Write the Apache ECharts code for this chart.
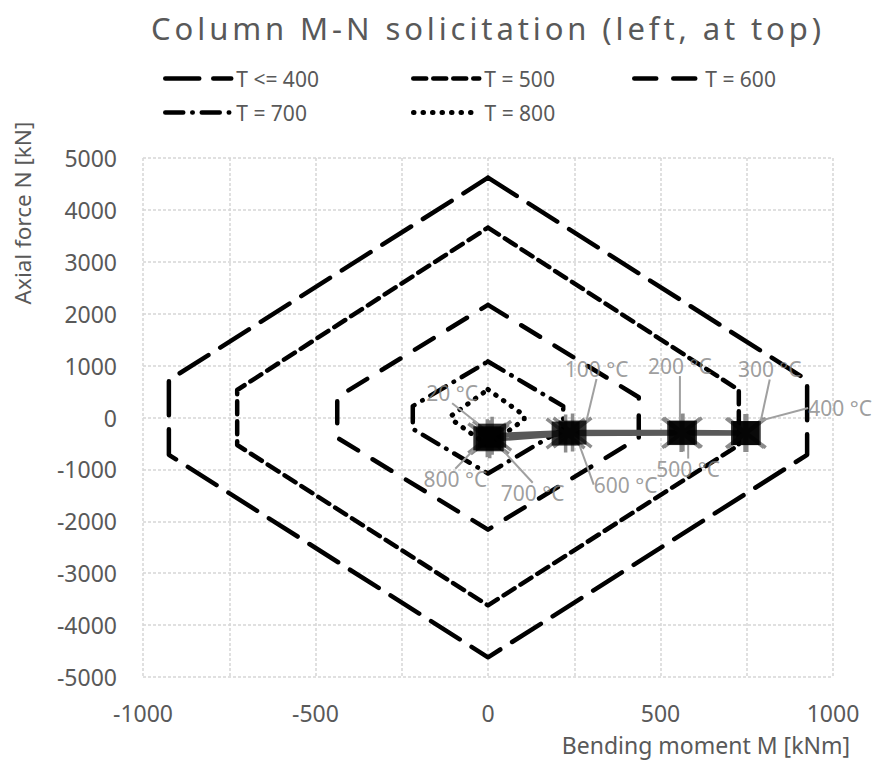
<!DOCTYPE html>
<html><head><meta charset="utf-8">
<script src="https://cdn.jsdelivr.net/npm/echarts@6/dist/echarts.min.js"></script>
<style>html,body{margin:0;padding:0;background:#fff}#c{width:874px;height:760px}</style>
</head><body><div id="c"></div>
<script>
// ---- data ----
const titleText = 'Column M-N solicitation (left, at top)';
const xAxisTitle = 'Bending moment M [kNm]';
const yAxisTitle = 'Axial force N [kN]';
const seriesNames = ['T <= 400', 'T = 500', 'T = 600', 'T = 700', 'T = 800'];
// interaction curves [M, N]
const curveT400 = [[0,4620],[925,720],[925,-720],[0,-4620],[-925,-720],[-925,720],[0,4620]];
const curveT500 = [[0,3660],[727,530],[727,-530],[0,-3620],[-727,-530],[-727,530],[0,3660]];
const curveT600 = [[0,2170],[437,390],[437,-390],[0,-2160],[-437,-390],[-437,390],[0,2170]];
const curveT700 = [[0,1080],[218,220],[218,-220],[0,-1080],[-218,-220],[-218,220],[0,1080]];
const curveT800 = [[0,540],[105,40],[105,-40],[0,-540],[-105,-40],[-105,40],[0,540]];
// solicitation points
const tempLabels = ['20 °C','100 °C','200 °C','300 °C','400 °C','500 °C','600 °C','700 °C','800 °C'];
const solM = [12, 245, 565, 750, 745, 560, 225, 5, -2];
const solN = [-350, -290, -290, -300, -300, -300, -310, -420, -400];
const xTickLabels = [-1000, -500, 0, 500, 1000];
const yTickLabels = [-5000,-4000,-3000,-2000,-1000,0,1000,2000,3000,4000,5000];

// ---- styling / layout ----
const FONT = 'Noto Sans';
const curves = [curveT400, curveT500, curveT600, curveT700, curveT800];
const dashPatterns = [[34,14],[13,7],[22,17],[18,9,0.5,9],[0.5,9]];
const lineWidths = [4.5,4.5,4.5,4.5,5];
const legendPos = [[163,68],[411,68],[632,68],[163,102],[411,102]];
const labelOffsets = [[-40,-43],[24,-64],[-3,-67],[23,-64],[95,-25],[7,36],[60,51],[43,54],[-32,41]];
const solData = solM.map((m,i)=>[m, solN[i]]);

const chart = echarts.init(document.getElementById('c'), null, {renderer:'svg'});

const series = curves.map((c,i)=>({
  name: seriesNames[i], type:'line', data: c, symbol:'none', z: 3,
  itemStyle:{color:'#000'},
  lineStyle:{color:'#000', width:lineWidths[i], type: dashPatterns[i], cap:'round', join:'round'}
}));
series.push({
  name:'solicitation', type:'line', data: solData, z: 4,
  symbol:'path://M0,0L20,20M20,0L0,20M10,-3L10,23', symbolSize: 38,
  itemStyle:{color:'transparent', borderColor:'#8c8c8c', borderWidth:3.5},
  lineStyle:{color:'#595959', width:5.5}
});
series.push({
  name:'points', type:'scatter', data: solData, z: 5,
  symbol:'rect', symbolSize:[28,24], itemStyle:{color:'#000'},
  label:{show:true, position:'inside', formatter:(p)=>tempLabels[p.dataIndex],
    color:'#858585', fontFamily:FONT, fontSize:21},
  labelLine:{show:true, lineStyle:{color:'#a0a0a0', width:2}},
  labelLayout:(p)=>({dx: labelOffsets[p.dataIndex][0], dy: labelOffsets[p.dataIndex][1]})
});

const option = {
  animation:false,
  backgroundColor:'#fff',
  title:{text:titleText, left:483, top:7, textAlign:'center',
    textStyle:{fontFamily:FONT, fontSize:31, fontWeight:'normal', color:'#595959'}},
  legend: seriesNames.map((n,i)=>({data:[n], left:legendPos[i][0], top:legendPos[i][1],
    padding:0, itemWidth:66, itemHeight:14, itemGap:6, selectedMode:false,
    itemStyle:{opacity:0},
    lineStyle:{width:lineWidths[i], type:dashPatterns[i], cap:'round', color:'#000'},
    textStyle:{fontFamily:FONT, fontSize:21, color:'#595959'}})),
  grid:{left:143, right:41, top:158, bottom:83},
  xAxis:{type:'value', min:-1000, max:1000, interval:250,
    axisLine:{show:false}, axisTick:{show:false},
    axisLabel:{margin:24, fontFamily:FONT, fontSize:23, color:'#595959',
      formatter:(v)=> xTickLabels.includes(v) ? String(v) : ''},
    splitLine:{show:true, lineStyle:{color:'#d6d6d6', width:1.5, type:[3,2]}}},
  yAxis:{type:'value', min:-5000, max:5000, interval:1000,
    axisLine:{show:false}, axisTick:{show:false},
    axisLabel:{margin:26, fontFamily:FONT, fontSize:23, color:'#595959',
      formatter:(v)=> yTickLabels.includes(v) ? String(v) : ''},
    splitLine:{show:true, lineStyle:{color:'#d6d6d6', width:1.5, type:[3,2]}}},
  graphic:[
    {type:'text', x:22, y:213, rotation:Math.PI/2,
      style:{text:yAxisTitle, fill:'#595959', font:'22.5px "Noto Sans"', align:'center', verticalAlign:'middle'}},
    {type:'text', x:850, y:745,
      style:{text:xAxisTitle, fill:'#595959', font:'23px "Noto Sans"', align:'right', verticalAlign:'middle'}}
  ],
  series: series
};
chart.setOption(option);
function spaceTitle(){
  document.querySelectorAll('#c svg text').forEach(t=>{
    if (t.textContent === titleText) t.setAttribute('letter-spacing','3.9');
  });
}
chart.on('finished', spaceTitle);
setTimeout(spaceTitle, 50);
</script></body></html>
